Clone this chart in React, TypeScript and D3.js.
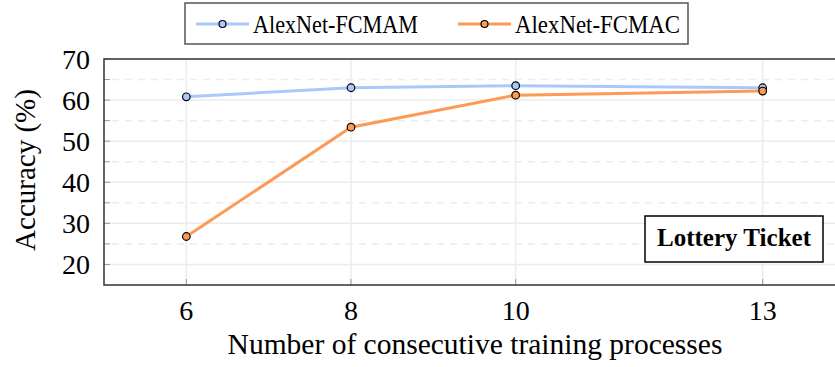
import React from 'react';
import * as d3 from 'd3';

const steps = [6, 8, 10, 13];
const fcmam = [60.8, 63.0, 63.5, 63.0];
const fcmac = [26.8, 53.4, 61.2, 62.2];
const yTicks = [20, 30, 40, 50, 60, 70];
const yMinor = [25, 35, 45, 55, 65];
const seriesNames = ['AlexNet-FCMAM', 'AlexNet-FCMAC'];
const seriesColors = ['#a9c9fb', '#fd9a55'];

const W = 835;
const H = 367;
const left = 104;
const top = 59;
const bottom = 285;
const FONT = '"Liberation Serif", "DejaVu Serif", serif';

export default function App() {
  // axis box runs past the right edge of the picture, as in the original
  const x = d3.scaleLinear().domain([5, 14]).range([left, 845]);
  const y = d3.scaleLinear().domain([15, 70]).range([bottom, top]);
  const line = d3.line<number>().x((d, i) => x(steps[i])).y((d) => y(d));
  const all = [fcmam, fcmac];

  return (
    <svg width={W} height={H} style={{ position: 'absolute', left: 0, top: 0 }} fontFamily={FONT}>
      <rect width={W} height={H} fill="#fff" />
      {/* grid */}
      {yMinor.map((v) => (
        <line key={'m' + v} x1={left + 8} x2={W} y1={y(v)} y2={y(v)} stroke="#ececec" strokeWidth={1.5} strokeDasharray="7 6" />
      ))}
      {yTicks.map((v) => (
        <line key={'g' + v} x1={left} x2={W} y1={y(v)} y2={y(v)} stroke="#ececec" strokeWidth={1.5} />
      ))}
      {steps.map((v) => (
        <line key={'vx' + v} x1={x(v)} x2={x(v)} y1={top} y2={bottom} stroke="#ececec" strokeWidth={1.5} />
      ))}
      {/* ticks */}
      {yTicks.concat(yMinor).map((v) => (
        <line key={'t' + v} x1={left} x2={left + 6} y1={y(v)} y2={y(v)} stroke="#999" strokeWidth={1} />
      ))}
      {steps.map((v) => (
        <line key={'tx' + v} x1={x(v)} x2={x(v)} y1={bottom} y2={bottom - 6} stroke="#999" strokeWidth={1} />
      ))}
      {/* axis frame */}
      <path d={`M${W + 5},${top}H${left}V${bottom}H${W + 5}`} fill="none" stroke="#333" strokeWidth={1.5} />
      {/* tick labels */}
      {yTicks.map((v) => (
        <text key={'yl' + v} x={left - 14} y={y(v)} dy="0.35em" textAnchor="end" fontSize={28}>{v}</text>
      ))}
      {steps.map((v) => (
        <text key={'xl' + v} x={x(v)} y={bottom + 35} textAnchor="middle" fontSize={28}>{v}</text>
      ))}
      <text x={475} y={354} textAnchor="middle" fontSize={29.5}>Number of consecutive training processes</text>
      <text transform={`translate(35,${(top + bottom) / 2 - 2}) rotate(-90)`} textAnchor="middle" fontSize={29}>Accuracy (%)</text>
      {/* series */}
      {all.map((s, k) => (
        <g key={'s' + k}>
          <path d={line(s) || ''} fill="none" stroke={seriesColors[k]} strokeWidth={3} />
          {s.map((v, i) => (
            <circle key={i} cx={x(steps[i])} cy={y(v)} r={3.8} fill={seriesColors[k]} stroke="#000" strokeWidth={1.2} />
          ))}
        </g>
      ))}
      {/* lottery ticket label */}
      <rect x={645} y={216} width={178} height={46} fill="#fff" stroke="#000" strokeWidth={1.5} />
      <text x={734} y={246} textAnchor="middle" fontSize={25} fontWeight={700} fontFamily='"Liberation Serif", serif'>Lottery Ticket</text>
      {/* legend */}
      <rect x={185} y={3} width={503} height={41} fill="#fff" stroke="#555" strokeWidth={1.5} />
      {seriesNames.map((n, k) => {
        const x0 = k === 0 ? 196 : 458;
        return (
          <g key={'lg' + k}>
            <line x1={x0} x2={x0 + 53} y1={24} y2={24} stroke={seriesColors[k]} strokeWidth={3} />
            <circle cx={x0 + 26.5} cy={24} r={3.5} fill={seriesColors[k]} stroke="#000" strokeWidth={1.2} />
            <text x={x0 + 57} y={24} dy="0.35em" fontSize={25} textLength={165} lengthAdjust="spacingAndGlyphs">{n}</text>
          </g>
        );
      })}
    </svg>
  );
}
